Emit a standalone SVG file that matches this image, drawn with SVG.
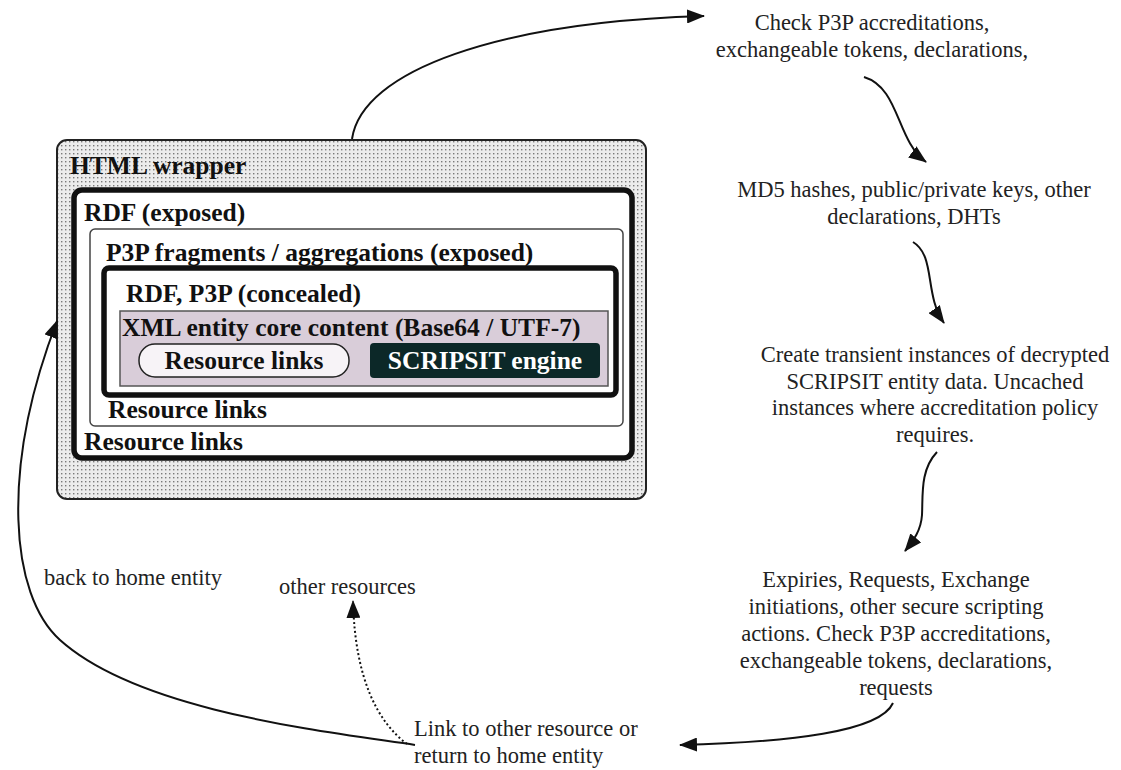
<svg xmlns="http://www.w3.org/2000/svg" width="1121" height="770" viewBox="0 0 1121 770">
<defs>
<pattern id="dots" width="4" height="4" patternUnits="userSpaceOnUse">
<rect width="4" height="4" fill="#ececec"/>
<rect x="1" y="1" width="1.4" height="1.4" fill="#7a7a7a"/>
</pattern>
<marker id="ah" viewBox="0 0 18 14" refX="17" refY="7" markerWidth="18" markerHeight="14" markerUnits="userSpaceOnUse" orient="auto">
<path d="M0,0 L18,7 L0,14 Z" fill="#111"/>
</marker>
</defs>
<style>
.b{font-family:"Liberation Serif","Times New Roman",serif;font-weight:bold;font-size:25.5px;fill:#111}
.t{font-family:"Liberation Serif","Times New Roman",serif;font-size:22.5px;fill:#222}
.c{text-anchor:middle}
.ln{fill:none;stroke:#111;stroke-width:2}
</style>
<g id="html-wrapper">
<rect x="57" y="140" width="589" height="359" rx="10" fill="url(#dots)" stroke="#222" stroke-width="2"/>
<text class="b" x="70" y="174">HTML wrapper</text>
</g>
<g id="rdf-exposed">
<rect x="74" y="190" width="558" height="268" rx="8" fill="#fff" stroke="#111" stroke-width="5.5"/>
<text class="b" x="84" y="221">RDF (exposed)</text>
<text class="b" x="84" y="450">Resource links</text>
</g>
<g id="p3p-fragments">
<rect x="90" y="229" width="533" height="197" rx="5" fill="#fff" stroke="#444" stroke-width="1.5"/>
<text class="b" x="106" y="261">P3P fragments / aggregations (exposed)</text>
<text class="b" x="108" y="418">Resource links</text>
</g>
<g id="rdf-p3p-concealed">
<rect x="104" y="268" width="512" height="127" rx="5" fill="#fff" stroke="#111" stroke-width="5.5"/>
<text class="b" x="126" y="302">RDF, P3P (concealed)</text>
</g>
<g id="xml-core">
<rect x="120" y="311" width="488" height="75" fill="#d9cdd9" stroke="#555" stroke-width="1.5"/>
<text class="b" x="122" y="336">XML entity core content (Base64 / UTF-7)</text>
</g>
<g id="resource-links-pill">
<rect x="139" y="344" width="210" height="33" rx="16" fill="#f7f3f7" stroke="#222" stroke-width="1.5"/>
<text class="b c" x="244" y="369">Resource links</text>
</g>
<g id="scripsit-engine">
<rect x="370" y="343" width="230" height="35" rx="4" fill="#0c2828"/>
<text class="b c" x="485" y="369" style="fill:#fff">SCRIPSIT engine</text>
</g>
<g id="check-p3p">
<text class="t c" x="872" y="30">Check P3P accreditations,</text>
<text class="t c" x="872" y="57">exchangeable tokens, declarations,</text>
</g>
<g id="md5">
<text class="t c" x="914" y="197">MD5 hashes, public/private keys, other</text>
<text class="t c" x="914" y="224">declarations, DHTs</text>
</g>
<g id="transient">
<text class="t c" x="935" y="362">Create transient instances of decrypted</text>
<text class="t c" x="935" y="389">SCRIPSIT entity data. Uncached</text>
<text class="t c" x="935" y="415">instances where accreditation policy</text>
<text class="t c" x="935" y="442">requires.</text>
</g>
<g id="expiries">
<text class="t c" x="896" y="587">Expiries, Requests, Exchange</text>
<text class="t c" x="896" y="614">initiations, other secure scripting</text>
<text class="t c" x="896" y="641">actions. Check P3P accreditations,</text>
<text class="t c" x="896" y="668">exchangeable tokens, declarations,</text>
<text class="t c" x="896" y="695">requests</text>
</g>
<g id="link-node">
<text class="t" x="414" y="736">Link to other resource or</text>
<text class="t" x="414" y="763">return to home entity</text>
</g>
<g id="back-home">
<text class="t" x="44" y="585">back to home entity</text>
</g>
<g id="other-resources">
<text class="t" x="279" y="594">other resources</text>
</g>
<g id="connectors">
<path class="ln" d="M352,139 C362,70 500,22 704,16" marker-end="url(#ah)"/>
<path class="ln" d="M864,77 C900,88 896,140 926,162" marker-end="url(#ah)"/>
<path class="ln" d="M913,242 C936,256 924,295 944,323" marker-end="url(#ah)"/>
<path class="ln" d="M937,452 C920,470 923,495 922,515 C921,530 914,540 905,551" marker-end="url(#ah)"/>
<path class="ln" d="M893,703 C880,732 790,742 680,745" marker-end="url(#ah)"/>
<path class="ln" d="M415,745 C330,732 140,712 60,640 C10,595 0,470 57,321" marker-end="url(#ah)"/>
<path class="ln" d="M407,744 C378,722 355,680 353,601" stroke-dasharray="2,2.5" stroke-width="1.5" marker-end="url(#ah)"/>
</g>
</svg>
